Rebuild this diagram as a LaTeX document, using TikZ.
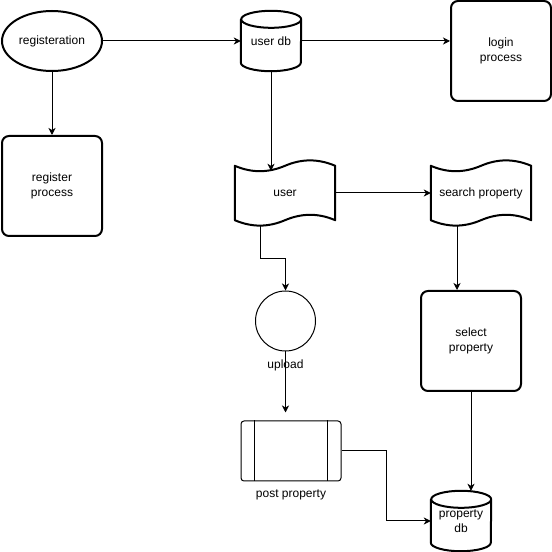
\documentclass[tikz,border=0pt]{standalone}
\usepackage{fontspec}
\setmainfont{Liberation Sans}
\usetikzlibrary{shapes.geometric, calc, arrows.meta}

\begin{document}
\begin{tikzpicture}[x=1pt,y=1pt,
    font=\fontsize{12}{15}\selectfont,
    flow/.style={line width=1pt,-{Stealth[length=7pt,width=7pt,inset=2pt]}},
    procbox/.style={draw,rectangle,rounded corners=7pt,line width=2pt,
        minimum width=100pt,minimum height=100pt,align=center},
    dbbox/.style={rectangle,minimum width=60pt,minimum height=60pt,
        align=center,inner sep=0pt},
    tapebox/.style={rectangle,minimum width=100pt,minimum height=66pt,
        inner sep=0pt}]
        \useasboundingbox (0,0) rectangle (552,552);
        \node [draw,ellipse,line width=2pt,minimum width=100pt,
            minimum height=60pt,inner sep=0pt] (regist) at (52,511)
            {registeration};
        \node [procbox] (regproc) at (52,366) {register\\process};
        \node [dbbox] (userdb) at (271,511) {user db};
        \node [procbox] (login) at (501,501) {login\\process};
        \node [tapebox] (user) at (285,359) {user};
        \node [tapebox] (searchprop) at (481,359) {search property};
        \node [draw,circle,line width=1pt,minimum size=60pt,inner sep=0pt,
            label={[inner sep=0pt,label distance=8pt]below:upload}]
            (upload) at (285.5,231) {};
        \node [procbox] (selectprop) at (471,211) {select\\property};
        \node [draw,rectangle,rounded corners=3pt,line width=1pt,
            minimum width=100pt,minimum height=60pt,
            label={[inner sep=0pt,label distance=8pt]below:post property}]
            (postprop) at (291,101) {};
        \node [dbbox] (propdb) at (461,31) {property\\db};
        % side bars of the process box
        \draw [line width=1pt] ($(postprop.north west)+(14,0)$)
            -- ($(postprop.south west)+(14,0)$);
        \draw [line width=1pt] ($(postprop.north east)+(-14,0)$)
            -- ($(postprop.south east)+(-14,0)$);
        % tape outlines
        \foreach \t in {user,searchprop} {
            \draw [line width=2pt,line join=round]
            ($(\t.north west)+(0,-6)$)
                .. controls ($(\t.north west)+(16.7,-13.2)$)
                and ($(\t.north west)+(33.3,-13.2)$) .. ($(\t.north)+(0,-6)$)
                .. controls ($(\t.north)+(16.7,1.2)$)
                and ($(\t.north)+(33.3,1.2)$) .. ($(\t.north east)+(0,-6)$)
            -- ($(\t.south east)+(0,6)$)
                .. controls ($(\t.south east)+(-16.7,13.2)$)
                and ($(\t.south east)+(-33.3,13.2)$) .. ($(\t.south)+(0,6)$)
                .. controls ($(\t.south)+(-16.7,-1.2)$)
                and ($(\t.south)+(-33.3,-1.2)$) .. ($(\t.south west)+(0,6)$)
            -- cycle;
        }
        % cylinder outlines
        \foreach \c in {userdb,propdb} {
            \draw [line width=2pt]
            ($(\c.north west)+(0,-8.5)$) -- ($(\c.south west)+(0,8.5)$)
                arc [start angle=180,end angle=360,x radius=30pt,y radius=8.5pt]
            -- ($(\c.north east)+(0,-8.5)$)
                arc [start angle=0,end angle=180,x radius=30pt,y radius=8.5pt]
                arc [start angle=180,end angle=360,x radius=30pt,y radius=8.5pt];
        }
        \draw [flow] (regist.east) -- (userdb.west);
        \draw [flow] (regist.south) -- (regproc.north);
        \draw [flow] (userdb.east) -- (userdb.east -| login.west);
        \draw [flow] (userdb.south) -- ($(userdb.south |- user.north)+(0,-11)$);
        \draw [flow] (user.east) -- (searchprop.west);
        \draw [flow] ($(user.south)+(-25,0)$) |- ($(upload.north)+(0,32)$)
            -- (upload.north);
        \draw [flow] ($(searchprop.south)+(-24,0)$)
            -- ($(selectprop.north)+(-14,0)$);
        \draw [flow] (selectprop.south) -- (selectprop.south |- propdb.north);
        \draw [flow] (upload.south) -- ($(upload.south |- postprop.north)+(0,8)$);
        \draw [flow] (postprop.east) -- ++(45,0) |- (propdb.west);
    \end{tikzpicture}
\end{document}
